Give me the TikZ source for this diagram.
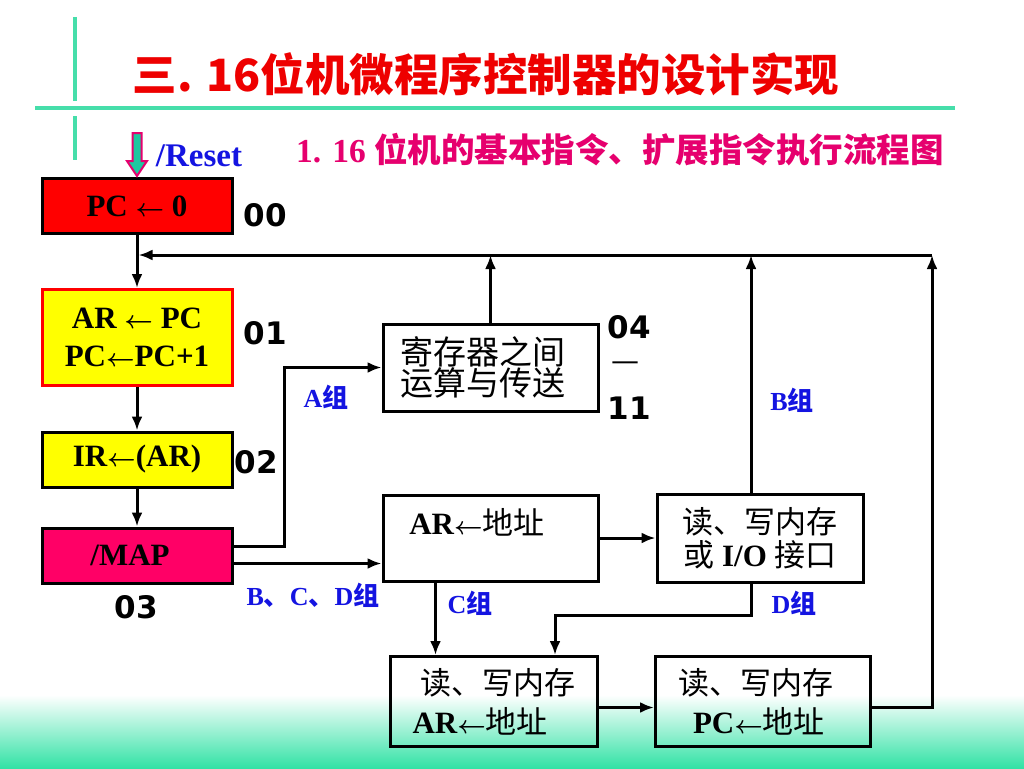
\documentclass[tikz,border=0pt]{standalone}
\usepackage{fontspec}
\setmainfont{Liberation Serif}
\newfontfamily\cjk{Noto Sans CJK SC}
\newfontfamily\numf{DejaVu Sans}
\usetikzlibrary{arrows.meta}
\definecolor{titlered}{RGB}{238,0,0}
\definecolor{subpink}{RGB}{230,0,110}
\definecolor{lblue}{RGB}{20,20,225}
\definecolor{greenline}{RGB}{70,222,170}
\definecolor{bottomgreen}{RGB}{50,226,165}
\definecolor{resetfill}{RGB}{30,200,160}
\definecolor{mapfill}{RGB}{255,0,102}
\definecolor{boxyellow}{RGB}{255,255,0}
\definecolor{boxred}{RGB}{255,0,0}
\newcommand\la{{\boldmath$\leftarrow$}}
\newcommand\cjt[1]{{\cjk\mdseries #1}}
\tikzset{
  box/.style={draw=black, line width=3pt, inner sep=0pt, align=center,
    font=\bfseries\fontsize{31}{38}\selectfont},
  arr/.style={line width=3pt, -{Latex[length=14pt,width=11pt]}},
  num/.style={font=\numf\bfseries\fontsize{31}{36}\selectfont, inner sep=0pt},
  grp/.style={text=lblue, font=\bfseries\fontsize{26}{30}\selectfont, inner sep=0pt},
  gline/.style={draw=greenline, line width=4pt},
  resetarrow/.style={draw=subpink, fill=resetfill, line width=2pt, line join=miter}
}
\begin{document}
\begin{tikzpicture}[x=1pt,y=-1pt]
\useasboundingbox (0,0) rectangle (1024,768);
\fill[white] (0,0) rectangle (1024,768);
\shade[top color=white, bottom color=bottomgreen] (0,695) rectangle (1024,768);
% decorative green lines
\draw[gline] (75,17) -- (75,101);
\draw[gline] (75,116) -- (75,160);
\draw[gline] (35,108) -- (955,108);
% titles
\node[text=titlered, font=\cjk\bfseries\fontsize{44.5}{50}\selectfont] (title) at (486,74) {三. 16位机微程序控制器的设计实现};
\node[text=subpink, font=\bfseries\fontsize{33.5}{38}\selectfont] (sub) at (620,150) {1. 16 {\cjk\bfseries 位机的基本指令、扩展指令执行流程图}};
% left column
\node[box, fill=boxred, minimum width=190pt, minimum height=55pt] (pc0) at (137,206) {PC \la{} 0};
\node[box, fill=boxyellow, draw=boxred, minimum width=190pt, minimum height=96pt] (ar) at (137,337.5) {AR \la{} PC\\PC\la PC+1};
\node[box, fill=boxyellow, minimum width=190pt, minimum height=55pt] (ir) at (137,459.5) {IR\la(AR)};
\node[box, fill=mapfill, minimum width=190pt, minimum height=55pt] (map) at (137,555.5) {\hspace*{-14pt}/MAP};
% reset arrow
\draw[resetarrow] (pc0.north) ++(0,-1) -- ++(-10,-15) -- ++(5.5,0) -- ++(0,-28) -- ++(9,0) -- ++(0,28) -- ++(5.5,0) -- cycle;
\node[text=lblue, font=\bfseries\fontsize{33}{36}\selectfont, inner sep=0pt] (rst) at (199,156) {/Reset};
% step numbers
\node[num] (n00) at (265,215) {00};
\node[num] (n01) at (265,333) {01};
\node[num] (n02) at (256,462) {02};
\node[num] (n03) at (136,607) {03};
\node[num] (n04) at (629,327) {04};
\node[font=\numf\fontsize{28}{30}\selectfont, inner sep=0pt] (ndash) at (625,366) {—};
\node[num] (n11) at (629,408) {11};
% right boxes
\node[box, fill=white, minimum width=215pt, minimum height=87pt, font=\cjk\fontsize{33}{31}\selectfont, align=left] (reg) at (490.5,367.5) {\hspace*{-16pt}寄存器之间\\\hspace*{-16pt}运算与传送};
\node[box, fill=white, minimum width=215pt, minimum height=86pt] (arad) at (490.5,538) {};
\node[font=\bfseries\fontsize{31}{38}\selectfont, inner sep=0pt] (aradt) at (477,522) {AR\la\cjt{地址}};
\node[box, fill=white, minimum width=206pt, minimum height=88pt, font=\bfseries\fontsize{31}{33}\selectfont] (rw) at (760,538) {\cjt{读、写内存}\\\cjt{或} I/O \cjt{接口}};
\node[box, fill=none, minimum width=207pt, minimum height=90pt, font=\bfseries\fontsize{31}{39}\selectfont, align=left] (rwar) at (494,701.5) {\hspace*{8pt}\cjt{读、写内存}\\AR\la\cjt{地址}};
\node[box, fill=none, minimum width=215pt, minimum height=90pt, font=\bfseries\fontsize{31}{39}\selectfont] (rwpc) at (763,701.5) {\hspace*{-14pt}\cjt{读、写内存}\\\hspace*{-8pt}PC\la\cjt{地址}};
% group labels
\node[grp] (ga) at (326,397) {A\cjt{\bfseries 组}};
\node[grp] (gbcd) at (313,595) {B\cjt{\bfseries 、}C\cjt{\bfseries 、}D\cjt{\bfseries 组}};
\node[grp] (gc) at (470,603) {C\cjt{\bfseries 组}};
\node[grp] (gb) at (792,400) {B\cjt{\bfseries 组}};
\node[grp] (gd) at (794,603) {D\cjt{\bfseries 组}};
% connectors
\coordinate (top) at (932,255);
\coordinate (join) at (137,255);
\draw[arr] (pc0.south) -- (ar.north);
\draw[arr] (ar.south) -- (ir.north);
\draw[arr] (ir.south) -- (map.north);
\draw[arr] (top) -- ([xshift=1.5pt]join);
\draw[arr] ([yshift=9pt]map.east) -- (284,546.5) |- (reg.west);
\draw[arr] ([yshift=-8pt]map.east) -- ([yshift=-8pt]map.east -| arad.west);
\draw[arr] (reg.north) -- (reg.north |- top);
\draw[arr] (arad.east) -- (rw.west);
\draw[arr] ([xshift=-9pt]rw.north) -- ([xshift=-9pt]rw.north |- top);
\draw[arr] ([xshift=-55pt]arad.south) -- ([xshift=-55pt]arad.south |- rwar.north);
\draw[arr] ([xshift=-9pt]rw.south) -- ++(0,32) -| ([xshift=61pt]rwar.north);
\draw[arr] ([yshift=-6pt]rwar.east) -- ([yshift=-6pt]rwpc.west);
\draw[arr] ([yshift=-6pt]rwpc.east) -| (top);
\end{tikzpicture}
\end{document}
